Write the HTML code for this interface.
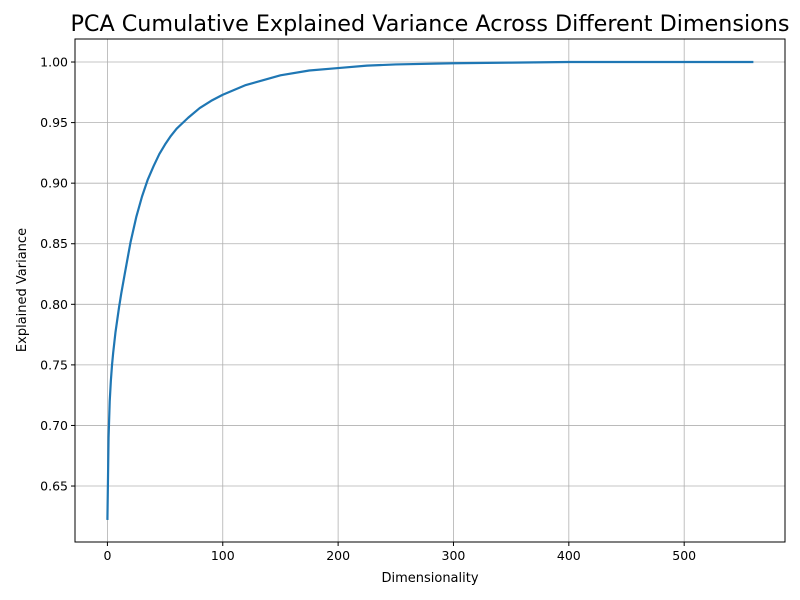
<!DOCTYPE html>
<html><head><meta charset="utf-8"><style>
body{margin:0;background:#fff;}
svg{display:block;font-family:"DejaVu Sans","Liberation Sans",sans-serif;}
</style></head><body>
<svg id="chart" width="800" height="600">
<rect width="800" height="600" fill="#fff"/>
<g id="grid"></g>
<g id="series"></g>
<rect x="75" y="39" width="710" height="503" fill="none" stroke="#000" stroke-width="1"/>
<g id="ticks"></g>
<text x="430" y="31" text-anchor="middle" font-size="22" textLength="719" lengthAdjust="spacingAndGlyphs">PCA Cumulative Explained Variance Across Different Dimensions</text>
<text x="430" y="582" text-anchor="middle" font-size="13">Dimensionality</text>
<text transform="translate(26,290) rotate(-90)" text-anchor="middle" font-size="13">Explained Variance</text>
</svg>
<script>
const dims = [0,1,2,3,4,5,7,10,12,15,20,25,30,35,40,45,50,55,60,70,80,90,100,110,120,135,150,175,200,225,250,300,350,400,450,500,560];
const variance = [0.622,0.69,0.72,0.737,0.75,0.76,0.777,0.797,0.809,0.825,0.851,0.872,0.889,0.903,0.914,0.924,0.932,0.939,0.945,0.954,0.962,0.968,0.973,0.977,0.981,0.985,0.989,0.993,0.995,0.997,0.998,0.999,0.9995,1.0,1.0,1.0,1.0];
const xTicks = [0,100,200,300,400,500];
const yTicks = [0.65,0.70,0.75,0.80,0.85,0.90,0.95,1.00];
const L=75,R=785,T=39,B=542;
const xMin=-28.1,xMax=587.4,yMin=0.6038,yMax=1.019;
function sx(v){return L+(v-xMin)/(xMax-xMin)*(R-L);}
function sy(v){return B-(v-yMin)/(yMax-yMin)*(B-T);}
const NS='http://www.w3.org/2000/svg';
const grid=document.getElementById('grid'),ticks=document.getElementById('ticks'),series=document.getElementById('series');
function mk(tag,attrs,parent){const e=document.createElementNS(NS,tag);for(const k in attrs)e.setAttribute(k,attrs[k]);parent.appendChild(e);return e;}
xTicks.forEach(v=>{
  const x=sx(v);
  const g=mk('line',{x1:x,x2:x,y1:T,y2:B,stroke:'#b0b0b0','stroke-width':0.8},grid);
  
  
  const t=mk('line',{x1:x,x2:x,y1:B,y2:B+4,stroke:'#000'},ticks);
  
  
  const l=mk('text',{x:x,y:B+18,'text-anchor':'middle','font-size':12.5},ticks);
  l.textContent=v;
  
  
});
yTicks.forEach(v=>{
  const y=sy(v);
  const g=mk('line',{x1:L,x2:R,y1:y,y2:y,stroke:'#b0b0b0','stroke-width':0.8},grid);
  
  
  const t=mk('line',{x1:L-4,x2:L,y1:y,y2:y,stroke:'#000'},ticks);
  
  
  const l=mk('text',{x:L-7,y:y+4.5,'text-anchor':'end','font-size':12.5},ticks);
  l.textContent=v.toFixed(2);
  
  
});
const d=dims.map((v,i)=>(i?'L':'M')+sx(v).toFixed(2)+','+sy(variance[i]).toFixed(2)).join(' ');
const p=mk('path',{d:d,fill:'none',stroke:'#1f77b4','stroke-width':2.2,'stroke-linejoin':'round'},series);


</script>
</body></html>
